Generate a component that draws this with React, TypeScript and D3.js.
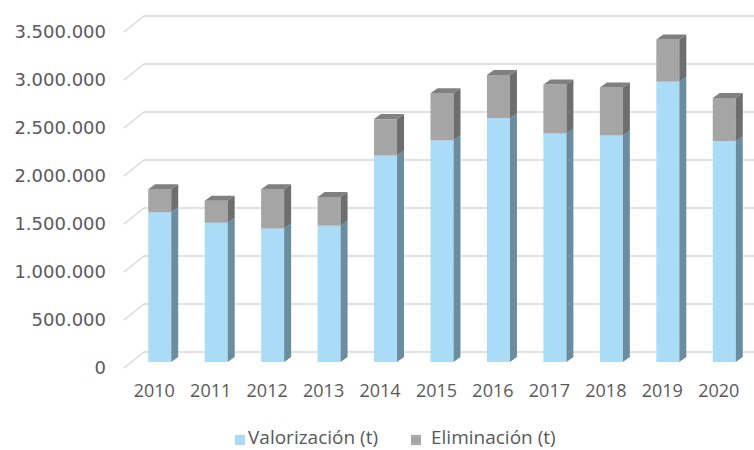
import { scaleBand, scaleLinear, formatLocale } from "d3";

const years = ["2010", "2011", "2012", "2013", "2014", "2015", "2016", "2017", "2018", "2019", "2020"];
const valorizacion = [1560000, 1450000, 1390000, 1420000, 2150000, 2310000, 2540000, 2380000, 2360000, 2920000, 2300000];
const eliminacion = [240000, 230000, 410000, 300000, 380000, 490000, 450000, 510000, 500000, 440000, 450000];
const yTicks = [0, 500000, 1000000, 1500000, 2000000, 2500000, 3000000, 3500000];
const seriesNames = ["Valorización (t)", "Eliminación (t)"];

const colors = {
  blue: { front: "#abdcf7", side: "#6a8ea0", top: "#8fb9cf" },
  gray: { front: "#a5a5a5", side: "#6e6e6e", top: "#808080" },
};

const es = formatLocale({ decimal: ",", thousands: ".", grouping: [3], currency: ["", ""] });
const fmt = es.format(",d");

export default function App() {
  const W = 754;
  const H = 450;
  // front plane of the 3D box
  const left = 124;
  const right = 745;
  const wallX = 20; // oblique offset to back wall
  const wallY = 16;
  const barDepthStart = 0.375; // fraction of depth where bar front sits
  const barDX = 7;
  const barDY = 5;

  const x = scaleBand<string>().domain(years).range([left, right]).padding(0);
  const y = scaleLinear().domain([0, 3500000]).range([368, 32]);
  const barW = 23;
  const offX = wallX * barDepthStart;
  const offY = wallY * barDepthStart;

  const segment = (
    key: string,
    xl: number,
    v0: number,
    v1: number,
    c: { front: string; side: string; top: string },
    drawTop: boolean
  ) => {
    const fx = xl + offX;
    const yb = y(v0) - offY;
    const yt = y(v1) - offY;
    const xr = fx + barW;
    return (
      <g key={key}>
        <rect x={fx} y={yt} width={barW} height={yb - yt} fill={c.front} />
        <path
          d={`M${xr},${yt}L${xr + barDX},${yt - barDY}L${xr + barDX},${yb - barDY}L${xr},${yb}Z`}
          fill={c.side}
        />
        {drawTop && (
          <path
            d={`M${fx},${yt}L${fx + barDX},${yt - barDY}L${xr + barDX},${yt - barDY}L${xr},${yt}Z`}
            fill={c.top}
          />
        )}
      </g>
    );
  };

  return (
    <svg
      width={W}
      height={H}
      style={{ position: "absolute", left: 0, top: 0, background: "#fff" }}
    >
      {/* back wall gridlines */}
      {yTicks.map((t) => {
        const yy = y(t);
        return (
          <path
            key={`grid-${t}`}
            d={`M${left},${yy}L${left + wallX},${yy - wallY}L${right + wallX + 20},${yy - wallY}`}
            fill="none"
            stroke="#d9d9d9"
            strokeWidth={1.5}
          />
        );
      })}

      {yTicks.map((t) => (
        <text
          key={`ytick-${t}`}
          x={106}
          y={y(t)}
          dy="0.36em"
          textAnchor="end"
          fontFamily="DejaVu Sans"
          fontSize={18}
          fill="#595959"
        >
          {fmt(t)}
        </text>
      ))}

      {years.map((yr, i) => {
        const xl = (x(yr) ?? 0) + (x.bandwidth() - barW) / 2;
        const v1 = valorizacion[i];
        const v2 = v1 + eliminacion[i];
        return (
          <g key={`bar-${yr}`}>
            {segment(`b-${yr}`, xl, 0, v1, colors.blue, false)}
            {segment(`g-${yr}`, xl, v1, v2, colors.gray, true)}
          </g>
        );
      })}

      {years.map((yr) => (
        <text
          key={`xl-${yr}`}
          x={(x(yr) ?? 0) + x.bandwidth() / 2 + 2}
          y={397}
          textAnchor="middle"
          fontFamily="Open Sans"
          fontSize={18}
          fill="#595959"
        >
          {yr}
        </text>
      ))}

      {/* legend */}
      <rect x={235} y={435} width={10} height={10} fill={colors.blue.front} />
      <text x={248} y={444} fontFamily="Open Sans" fontSize={19} fill="#595959">
        {seriesNames[0]}
      </text>
      <rect x={411} y={435} width={10} height={10} fill={colors.gray.front} />
      <text x={431} y={444} fontFamily="Open Sans" fontSize={19} fill="#595959">
        {seriesNames[1]}
      </text>
    </svg>
  );
}
